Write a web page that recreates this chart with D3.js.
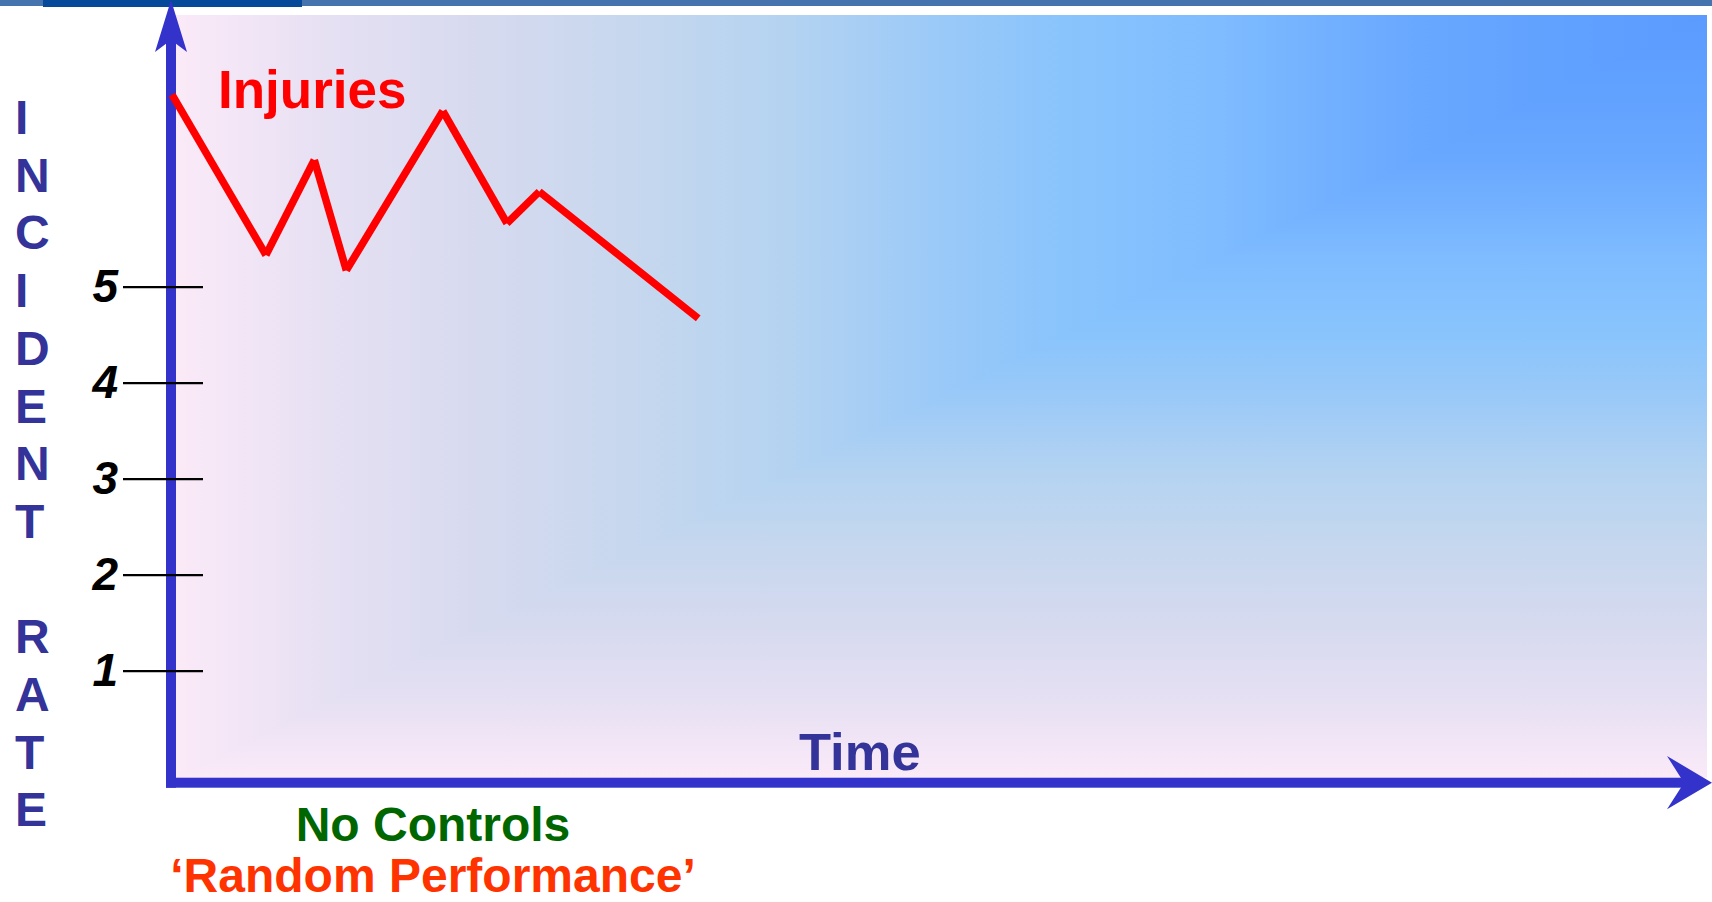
<!DOCTYPE html>
<html>
<head>
<meta charset="utf-8">
<script src="https://cdn.jsdelivr.net/npm/d3@7/dist/d3.min.js"></script>
<style>
  html, body { margin: 0; padding: 0; background: #ffffff; }
  svg { display: block; }
  text { font-family: "Liberation Sans", Arial, Helvetica, sans-serif; font-weight: bold; }
</style>
</head>
<body>
<svg id="chart" width="1712" height="902"></svg>
<script>
// ---------------- data ----------------
const yTickValues = [1, 2, 3, 4, 5];
const yTickLabels = ["1", "2", "3", "4", "5"];
const timePoints  = [0, 6.1, 9.24, 11.32, 17.59, 21.75, 23.85, 34.17];
const injuryRates = [7.0, 5.33, 6.32, 5.17, 6.83, 5.66, 5.99, 4.67];
const yAxisTitle  = "INCIDENT RATE";
const xAxisTitle  = "Time";
const seriesName  = "Injuries";
const captionLine1 = "No Controls";
const captionLine2 = "\u2018Random Performance\u2019";

// ---------------- layout ----------------
const W = 1712, H = 902;
const svg = d3.select("#chart");

const x = d3.scaleLinear().domain([0, 100]).range([172, 1712]);
const y = d3.scaleLinear().domain([0, 5]).range([766.7, 286.7]);

// top banner
svg.append("rect").attr("x", 0).attr("y", 0).attr("width", W).attr("height", 6).attr("fill", "#4573ad");
svg.append("rect").attr("x", 43).attr("y", 0).attr("width", 259).attr("height", 7).attr("fill", "#054a9a");

// background: rectangular ("from corner") gradient built from two linear gradients
const stops = [
  [0, "#5b9bff"], [0.1, "#61a1ff"], [0.2, "#6aa9ff"], [0.33, "#80bdff"], [0.42, "#89c4fc"],
  [0.5, "#9ac9f8"], [0.6, "#b4d3f1"], [0.7, "#c6d7ee"], [0.8, "#d6daef"], [0.9, "#e6e0f3"], [1, "#fbeaf8"]
];
const defs = svg.append("defs");
const gh = defs.append("linearGradient").attr("id", "gh")
  .attr("x1", 1).attr("y1", 0).attr("x2", 0).attr("y2", 0);
const gv = defs.append("linearGradient").attr("id", "gv")
  .attr("x1", 0).attr("y1", 0).attr("x2", 0).attr("y2", 1);
stops.forEach(([o, c]) => {
  gh.append("stop").attr("offset", o).attr("stop-color", c);
  gv.append("stop").attr("offset", o).attr("stop-color", c);
});
const bx0 = 176, by0 = 15, bx1 = 1707, by1 = 777.7;
svg.append("rect").attr("x", bx0).attr("y", by0).attr("width", bx1 - bx0).attr("height", by1 - by0)
  .attr("fill", "url(#gv)");
const triDefs = defs.append("clipPath").attr("id", "tri");
triDefs.append("path").attr("d", `M${bx0},${by0} L${bx1},${by0} L${bx0},${by1} Z`);
svg.append("rect").attr("x", bx0).attr("y", by0).attr("width", bx1 - bx0).attr("height", by1 - by0)
  .attr("fill", "url(#gh)").attr("clip-path", "url(#tri)");

// axes shafts and arrowheads
const axisColor = "#3333cc";
svg.append("rect").attr("x", 166).attr("y", 38).attr("width", 10).attr("height", 787.7 - 38).attr("fill", axisColor);
svg.append("path").attr("d", "M171,0 L187,52 L171,40 L155,52 Z").attr("fill", axisColor);
svg.append("rect").attr("x", 166).attr("y", 777.7).attr("width", 1686 - 166).attr("height", 10).attr("fill", axisColor);
svg.append("path").attr("d", "M1712,782.7 L1667,756 L1684,782.7 L1667,809.3 Z").attr("fill", axisColor);

// y ticks via d3 axis
const yAxis = d3.axisLeft(y)
  .tickValues(yTickValues)
  .tickFormat((d, i) => yTickLabels[i])
  .tickSize(80)
  .tickPadding(5);
const gy = svg.append("g").attr("transform", "translate(203,0)").call(yAxis);
gy.select(".domain").remove();
gy.selectAll(".tick line").attr("stroke", "#000").attr("stroke-width", 2.2);
gy.selectAll(".tick text")
  .attr("fill", "#000")
  .attr("dy", "0.33em")
  .style("font-family", "\"Liberation Sans\", Arial, sans-serif")
  .style("font-weight", "bold")
  .style("font-style", "italic")
  .style("font-size", "46px");

// injuries line: drawn as separate segments (butt caps)
const pts = timePoints.map((t, i) => [x(t), y(injuryRates[i])]);
svg.append("g").selectAll("line").data(d3.pairs(pts)).join("line")
  .attr("x1", d => d[0][0]).attr("y1", d => d[0][1])
  .attr("x2", d => d[1][0]).attr("y2", d => d[1][1])
  .attr("stroke", "#ff0000").attr("stroke-width", 7.5).attr("stroke-linecap", "butt");

// texts
svg.append("text").attr("x", 218).attr("y", 108).attr("font-size", 53).attr("fill", "#ff0000").text(seriesName);
svg.append("text").attr("x", 799).attr("y", 770).attr("font-size", 52.5).attr("fill", "#333399").text(xAxisTitle);

const letters = yAxisTitle.split("");
svg.append("g").selectAll("text").data(letters).join("text")
  .attr("x", 15).attr("y", (d, i) => 134 + i * 57.7)
  .attr("font-size", 48).attr("fill", "#333399")
  .text(d => d === " " ? "" : d);

svg.append("text").attr("x", 433).attr("y", 841).attr("text-anchor", "middle")
  .attr("font-size", 48).attr("fill", "#006600").text(captionLine1);
svg.append("text").attr("x", 433).attr("y", 892).attr("text-anchor", "middle")
  .attr("font-size", 48).attr("fill", "#ff3300").text(captionLine2);
</script>
</body>
</html>
